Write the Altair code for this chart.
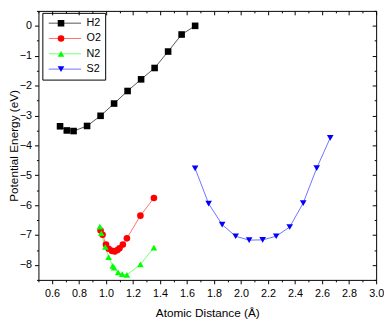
import altair as alt
import pandas as pd

series_names = ["H2", "O2", "N2", "S2"]
marker_colors = ["#000000", "#ff0000", "#00ff00", "#0000ff"]
line_colors = ["#555555", "#ff7070", "#70ff70", "#7070ff"]
marker_shapes = ["square", "circle", "triangle-up", "triangle-down"]

H2_x = [0.66, 0.71, 0.76, 0.86, 0.96, 1.06, 1.16, 1.26, 1.36, 1.46, 1.56, 1.66]
H2_y = [-3.36, -3.50, -3.52, -3.35, -3.01, -2.60, -2.18, -1.79, -1.41, -0.86, -0.29, 0.00]
O2_x = [0.96, 0.975, 1.00, 1.02, 1.045, 1.065, 1.085, 1.10, 1.125, 1.155, 1.255, 1.355]
O2_y = [-6.85, -6.99, -7.32, -7.46, -7.53, -7.55, -7.50, -7.44, -7.32, -7.11, -6.35, -5.76]
N2_x = [0.955, 0.965, 0.995, 1.02, 1.05, 1.06, 1.09, 1.12, 1.155, 1.255, 1.355]
N2_y = [-6.72, -6.94, -7.40, -7.74, -8.03, -8.09, -8.25, -8.31, -8.33, -7.98, -7.42]
S2_x = [1.66, 1.76, 1.86, 1.96, 2.06, 2.16, 2.26, 2.36, 2.46, 2.56, 2.66]
S2_y = [-4.77, -5.95, -6.65, -7.04, -7.17, -7.16, -7.04, -6.73, -5.93, -4.76, -3.75]

x_ticks = [0.5, 0.6, 0.7, 0.8, 0.9, 1.0, 1.1, 1.2, 1.3, 1.4, 1.5, 1.6, 1.7,
           1.8, 1.9, 2.0, 2.1, 2.2, 2.3, 2.4, 2.5, 2.6, 2.7, 2.8, 2.9, 3.0]
y_ticks = [-8.5, -8.0, -7.5, -7.0, -6.5, -6.0, -5.5, -5.0, -4.5, -4.0, -3.5,
           -3.0, -2.5, -2.0, -1.5, -1.0, -0.5, 0.0, 0.5]

rows = []
for name, xs, ys in [("H2", H2_x, H2_y), ("O2", O2_x, O2_y), ("N2", N2_x, N2_y), ("S2", S2_x, S2_y)]:
    for i, (xv, yv) in enumerate(zip(xs, ys)):
        rows.append({"x": xv, "y": yv, "series": name, "series_line": name, "idx": i})
df = pd.DataFrame(rows)

W, H = 344, 274
FONT = "Liberation Sans"

x_scale = alt.Scale(domain=[0.5, 3.0], nice=False, zero=False)
y_scale = alt.Scale(domain=[-8.5, 0.5], nice=False, zero=False)

x_tick_size = {"expr": "round(datum.value*10) % 2 == 0 ? 4 : 2"}
y_tick_size = {"expr": "datum.value % 1 == 0 ? 4 : 2"}

x_axis_main = alt.Axis(
    values=x_ticks, title="Atomic Distance (Å)", tickSize=x_tick_size,
    labelExpr="round(datum.value*10) % 2 == 0 ? format(datum.value, '.1f') : ''",
    labelOverlap=False, labelFlush=False, labelPadding=4, titlePadding=9,
    grid=False, domain=False,
)
y_axis_main = alt.Axis(
    values=y_ticks, title="Potential Energy (eV)", tickSize=y_tick_size,
    labelExpr="datum.value % 1 == 0 ? format(datum.value, 'd') : ''",
    labelOverlap=False, labelFlush=False, labelPadding=3, titlePadding=-1,
    grid=False, domain=False,
)
x_axis_top = alt.Axis(
    values=x_ticks, title=None, labels=False, tickSize=x_tick_size,
    orient="bottom", offset=-H, grid=False, domain=False,
)
y_axis_right = alt.Axis(
    values=y_ticks, title=None, labels=False, tickSize=y_tick_size,
    orient="left", offset=-W, grid=False, domain=False,
)

line_legend = alt.Legend(
    title=None, orient="none", legendX=4, legendY=2, padding=4,
    strokeColor="#000000", symbolType="stroke", symbolSize=1089,
    symbolStrokeWidth=1, symbolOffset=2, clipHeight=13, rowPadding=2.6,
    labelFont=FONT, labelFontSize=11, labelColor="#000000", labelOffset=5,
    zindex=1,
)
marker_legend = alt.Legend(
    title=None, orient="none", legendX=13.5, legendY=2, padding=4,
    symbolSize=45, symbolStrokeWidth=0, clipHeight=13, rowPadding=2.6,
    labelFont=FONT, labelFontSize=11, labelOpacity=0, zindex=2,
)

base = alt.Chart(df)

lines = base.mark_line(strokeWidth=1).encode(
    x=alt.X("x:Q", scale=x_scale, axis=x_axis_main),
    y=alt.Y("y:Q", scale=y_scale, axis=y_axis_main),
    stroke=alt.Stroke("series_line:N", sort=series_names,
                      scale=alt.Scale(range=line_colors),
                      legend=line_legend),
    order=alt.Order("idx:Q"),
)

points = base.mark_point(filled=True, size=45, opacity=1, strokeWidth=0).encode(
    x=alt.X("x:Q", scale=x_scale, axis=x_axis_top),
    y=alt.Y("y:Q", scale=y_scale, axis=y_axis_right),
    fill=alt.Fill("series:N", sort=series_names,
                  scale=alt.Scale(domain=series_names, range=marker_colors),
                  legend=marker_legend),
    shape=alt.Shape("series:N", sort=series_names,
                    scale=alt.Scale(domain=series_names, range=marker_shapes),
                    legend=marker_legend),
)

chart = alt.layer(lines, points).resolve_axis(
    x="independent", y="independent"
).properties(
    width=W, height=H,
    autosize=alt.AutoSizeParams(type="none"),
    padding={"left": 31, "top": 0, "right": 8, "bottom": 43},
    background="white",
).configure_view(
    stroke="#000000", strokeWidth=1
).configure_axis(
    labelFont=FONT, labelFontSize=11, labelColor="#000000",
    titleFont=FONT, titleFontSize=12, titleFontWeight="normal", titleColor="#000000",
    tickColor="#000000", tickWidth=1,
)

chart.save("out.html", embed_options={"renderer": "svg", "actions": False})
